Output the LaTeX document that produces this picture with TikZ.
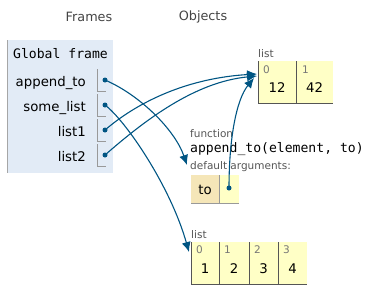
\documentclass[tikz,border=0pt]{standalone}
\usepackage{fontspec}
\setmainfont{DejaVu Sans}
\setmonofont{DejaVu Sans Mono}
\usetikzlibrary{arrows.meta}
\definecolor{framebg}{HTML}{E2EBF6}
\definecolor{heapbg}{HTML}{FFFFC6}
\definecolor{keybg}{HTML}{F5E6B8}
\definecolor{ptr}{HTML}{005583}
\definecolor{idxc}{HTML}{777777}
\definecolor{lblc}{HTML}{555555}
\definecolor{headc}{HTML}{444444}
\tikzset{
  head/.style={font=\fontsize{12.8}{14}\selectfont, text=headc, inner sep=0},
  varlbl/.style={font=\fontsize{13.3}{15}\selectfont, anchor=base east, inner sep=0},
  small/.style={font=\fontsize{10.5}{12}\selectfont, text=lblc, anchor=base west, inner sep=0},
  idx/.style={font=\fontsize{10.5}{12}\selectfont, text=idxc, anchor=base west, inner sep=0},
  val/.style={font=\fontsize{13.3}{15}\selectfont, anchor=base, inner sep=0},
  code/.style={font=\ttfamily\fontsize{13.1}{15}\selectfont, anchor=base west, inner sep=0},
  cellline/.style={draw=lblc, line width=0.9pt},
  varline/.style={draw=gray!80, line width=0.9pt},
  dot/.style={circle, fill=ptr, inner sep=0, minimum size=5pt},
  ptrarrow/.style={draw=ptr, line width=1.1pt, -{Latex[length=10pt,width=9pt]}}
}
\begin{document}
\begin{tikzpicture}[x=1pt,y=-1pt]
\useasboundingbox (0,0) rectangle (374,303);
% headings
\node[head] (frames) at (89,17) {Frames};
\node[head] (objects) at (203,17) {Objects};
% global frame
\fill[framebg] (6.5,40) rectangle (113,173);
\draw[gray!70, line width=1pt] (7,40) -- (7,173);
\node[code] (gf) at (13,58) {Global frame};
% variables
\foreach \n/\lab [count=\i from 0] in {va/append\_to, vs/some\_list, vl1/list1, vl2/list2}{
  \node[varlbl] (\n) at (86,86+25*\i) {\lab};
  \draw[varline] (97,69+25*\i) -- (97,91+25*\i) -- (106,91+25*\i);
  \node[dot] (\n d) at (105,80+25*\i) {};
}
% list [12, 42]
\fill[heapbg] (258,61) rectangle (333,103);
\draw[cellline] (258,61) -- (258,103) -- (333,103);
\draw[cellline] (296,61) -- (296,103);
\node[small] (l1lbl) at (258,57) {list};
\node[idx] (l1i0) at (263,73) {0};
\node[idx] (l1i1) at (302,73) {1};
\node[val] (l1v0) at (277,92) {12};
\node[val] (l1v1) at (314.5,92) {42};
% function
\node[small] (fnlbl) at (190,137) {function};
\node[code] (fnsig) at (190,152) {append\_to(element, to)};
\node[small] (deflbl) at (190,169) {default arguments:};
\fill[keybg] (191,175) rectangle (219,203);
\fill[heapbg] (219,175) rectangle (239,203);
\draw[varline] (191,203) -- (239,203);
\draw[varline] (219,175) -- (219,203);
\node[val] (tolbl) at (205,194) {to};
\node[dot] (tod) at (229,188) {};
% list [1,2,3,4]
\fill[heapbg] (191,242) rectangle (307,284);
\draw[cellline] (191,242) -- (191,284) -- (307,284);
\foreach \x in {219,249,278}{\draw[cellline] (\x,242) -- (\x,284);}
\node[small] (l2lbl) at (191,238) {list};
\foreach \a/\b/\v [count=\i from 0] in {191/219/1, 219/249/2, 249/278/3, 278/307/4}{
  \node[idx] (l2i\i) at (\a+5,253) {\i};
  \node[val] (l2v\i) at ({(\a+\b)/2},273) {\v};
}
% arrow targets
\coordinate (tfn) at (187,165);
\coordinate (tl2) at (189,252);
\coordinate (tl1a) at (257,74);
\coordinate (tl1b) at (257,76);
\coordinate (tl1c) at (254,78);
% pointers
\draw[ptrarrow] (vad.center) .. controls (140,95) and (175,130) .. (tfn);
\draw[ptrarrow] (vsd.center) .. controls (125,120) and (170,185) .. (tl2);
\draw[ptrarrow] (vl1d.center) .. controls (140,100) and (190,78) .. (tl1a);
\draw[ptrarrow] (vl2d.center) .. controls (145,120) and (195,82) .. (tl1b);
\draw[ptrarrow] (tod.center) .. controls (229,140) and (236,100) .. (tl1c);
\end{tikzpicture}
\end{document}
